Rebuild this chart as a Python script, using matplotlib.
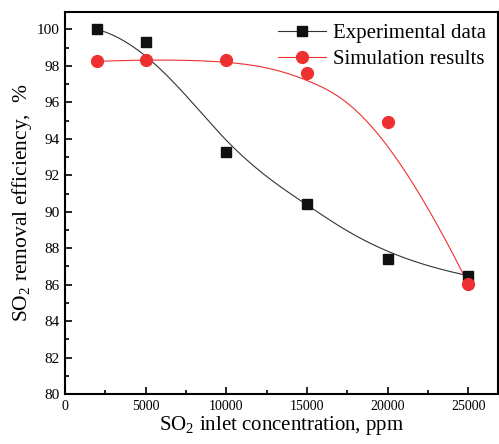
import numpy as np
import matplotlib
matplotlib.use("Agg")
import matplotlib.pyplot as plt
from matplotlib.ticker import MultipleLocator

conc = [2000, 5000, 10000, 15000, 20000, 25000]
experimental = [100.0, 99.3, 93.3, 90.4, 87.4, 86.5]
simulation = [98.25, 98.35, 98.35, 97.6, 94.9, 86.05]
xticks = [0, 5000, 10000, 15000, 20000, 25000]
yticks = [80, 82, 84, 86, 88, 90, 92, 94, 96, 98, 100]

plt.rcParams['font.family'] = ['Liberation Serif', 'DejaVu Serif']
plt.rcParams['mathtext.fontset'] = 'custom'
plt.rcParams['mathtext.rm'] = 'Liberation Serif'


def bspline(px, py, k=3, num=400):
    """Clamped uniform B-spline using the data points as control points."""
    px = np.asarray(px, float)
    py = np.asarray(py, float)
    n = len(px)
    inner = np.linspace(0, 1, n - k + 1)
    knots = np.concatenate([[0] * k, inner, [1] * k])
    t = np.linspace(0, 1, num)
    t[-1] = 1 - 1e-12

    def basis(i, d, tt):
        if d == 0:
            return ((knots[i] <= tt) & (tt < knots[i + 1])).astype(float)
        out = np.zeros_like(tt)
        den1 = knots[i + d] - knots[i]
        den2 = knots[i + d + 1] - knots[i + 1]
        if den1 > 0:
            out += (tt - knots[i]) / den1 * basis(i, d - 1, tt)
        if den2 > 0:
            out += (knots[i + d + 1] - tt) / den2 * basis(i + 1, d - 1, tt)
        return out

    B = np.array([basis(i, k, t) for i in range(n)])
    return B.T @ px, B.T @ py


fig = plt.figure(figsize=(4.99, 4.44), dpi=100)
ax = fig.add_axes([0.130, 0.1126, 0.868, 0.860])

black = '#111111'
red = '#ee3030'
bx, by = bspline(conc, experimental)
rx, ry = bspline(conc, simulation)
ax.plot(bx, by, color='#333333', lw=0.8)
ax.plot(rx, ry, color=red, lw=0.8)
ax.plot(conc, experimental, 's', color=black, ms=7.5, linestyle='none')
ax.plot(conc, simulation, 'o', color=red, ms=8.5, linestyle='none')

# legend handles
ax.plot([], [], color='#333333', lw=0.8, marker='s', ms=7.5, mfc=black, mec=black, label='Experimental data')
ax.plot([], [], color=red, lw=0.8, marker='o', ms=8.5, mfc=red, mec=red, label='Simulation results')
leg = ax.legend(loc='upper right', frameon=False, fontsize=15, handlelength=2.3,
                handletextpad=0.35, borderaxespad=0.15, labelspacing=0.3)

ax.set_xlim(0, 26850)
ax.set_ylim(80, 100.95)
ax.set_xticks(xticks)
ax.set_yticks(yticks)
ax.xaxis.set_minor_locator(MultipleLocator(2500))
ax.yaxis.set_minor_locator(MultipleLocator(1))
ax.tick_params(axis='both', which='both', direction='in', top=False, right=False)
ax.tick_params(axis='both', which='major', length=5, width=1.2, pad=4)
ax.tick_params(axis='both', which='minor', length=3, width=1.2)
ax.tick_params(axis='x', labelsize=10)
ax.tick_params(axis='y', labelsize=11)
for s in ax.spines.values():
    s.set_linewidth(1.5)

ax.set_xlabel(r'SO$_2$ inlet concentration, ppm', fontsize=15, labelpad=1)
ax.set_ylabel(r'SO$_2$ removal efficiency,  %', fontsize=15.5, labelpad=2)

fig.savefig('out.png', dpi=100)
